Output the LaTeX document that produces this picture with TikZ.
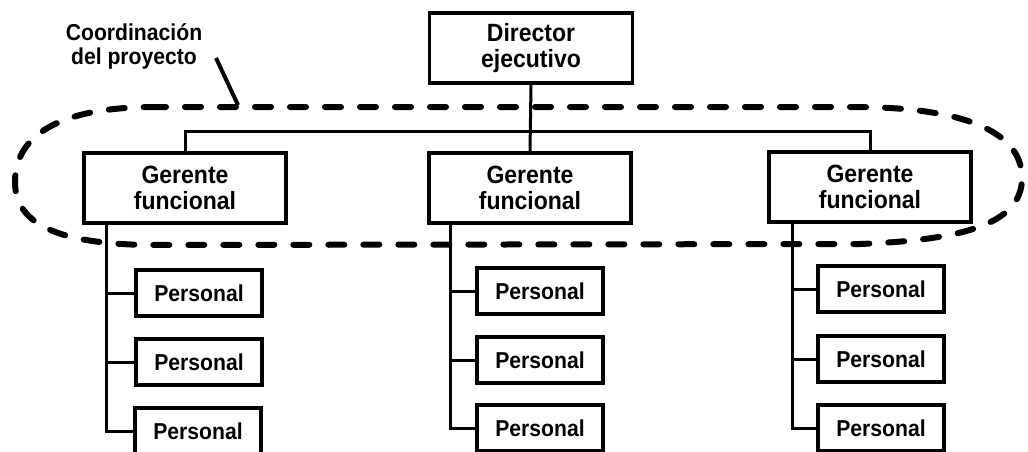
\documentclass[tikz,border=0pt]{standalone}
\usepackage{fontspec}
\newfontfamily\orgfont[FakeStretch=0.92]{Liberation Sans}
\begin{document}
\begin{tikzpicture}[x=1pt,y=-1pt,
  box/.style={draw=black,line width=3.5pt,inner sep=0pt,align=center,
    font=\orgfont\bfseries\fontsize{25}{26}\selectfont},
  headbox/.style={box,minimum width=203pt,minimum height=70pt},
  mgrbox/.style={box,minimum width=202pt,minimum height=70pt},
  staffbox/.style={box,minimum width=126pt,minimum height=46pt,
    font=\orgfont\bfseries\fontsize{23}{24}\selectfont},
  link/.style={draw=black,line width=3pt},
  scope line/.style={draw=black,line width=6pt,line cap=round,
    dash pattern=on 16pt off 19pt},
  note/.style={align=center,inner sep=0pt,
    font=\orgfont\bfseries\fontsize{23}{24}\selectfont}]
\useasboundingbox (0,0) rectangle (1028,452);

% top level
\node[headbox] (dir) at (531,48) {Director\\ejecutivo};

% functional managers
\node[mgrbox] (g1) at (185,188) {Gerente\\funcional};
\node[mgrbox] (g2) at (530,188) {Gerente\\funcional};
\node[mgrbox] (g3) at (870,187) {Gerente\\funcional};

\coordinate (bus) at (530,131);
\draw[link] (dir.south) -- (g2.north);
\draw[link] (g1.north) -- (g1.north |- bus) -- (g3.north |- bus) -- (g3.north);

% staff under each manager
\node[staffbox] (p11) at (199,293) {Personal};
\node[staffbox] (p12) at (199,362) {Personal};
\node[staffbox] (p13) at (198,431) {Personal};
\node[staffbox] (p21) at (540,291) {Personal};
\node[staffbox] (p22) at (540,360) {Personal};
\node[staffbox] (p23) at (540,428) {Personal};
\node[staffbox] (p31) at (881,289) {Personal};
\node[staffbox] (p32) at (881,359) {Personal};
\node[staffbox] (p33) at (881,428) {Personal};

\coordinate (s1) at ([xshift=24pt]g1.south west);
\coordinate (s2) at ([xshift=23pt]g2.south west);
\coordinate (s3) at ([xshift=25pt]g3.south west);
\foreach \c in {1,2,3}{
  \draw[link] (s\c) |- (p\c3.west);
  \draw[link] (s\c |- p\c1.west) -- (p\c1.west);
  \draw[link] (s\c |- p\c2.west) -- (p\c2.west);
}

% project coordination outline
\draw[scope line] (150,107) -- (860,107)
  .. controls (960,108) and (1022,130) .. (1022,178)
  .. controls (1022,225) and (960,240) .. (860,244)
  -- (150,245)
  .. controls (60,244) and (15,225) .. (15,182)
  .. controls (15,135) and (60,108) .. (150,107) -- cycle;

\node[note] (coord) at (134,46) {Coordinación\\del proyecto};
\coordinate (tip) at (238,105);
\draw[draw=black,line width=4pt] (216,58) -- (tip);
\end{tikzpicture}
\end{document}
